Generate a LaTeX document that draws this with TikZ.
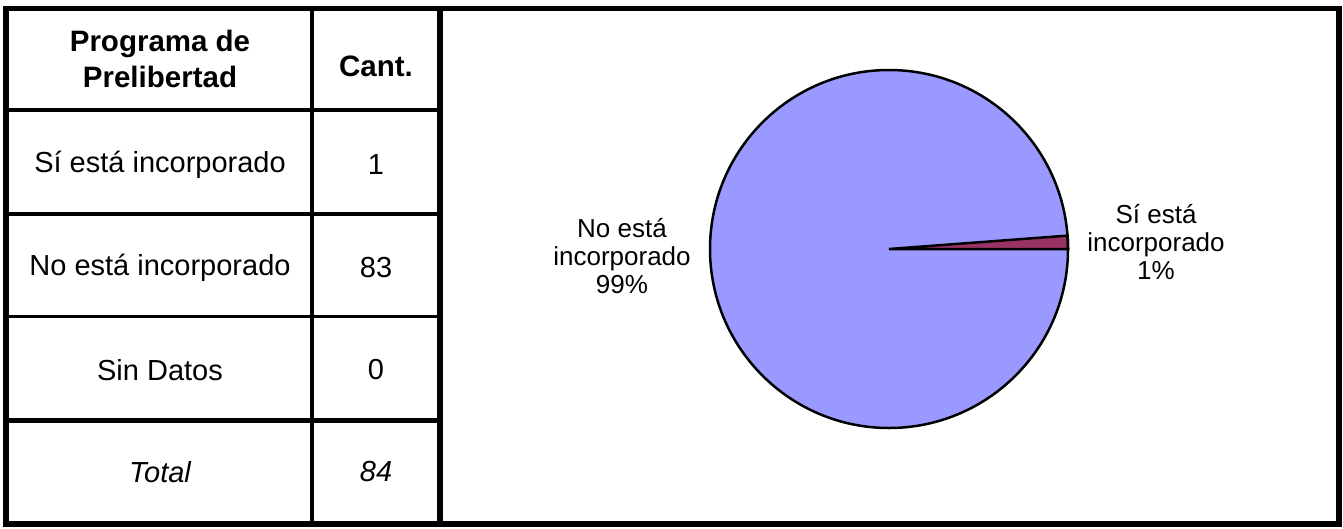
\documentclass[tikz,border=0pt]{standalone}
\usepackage{fontspec}
\setmainfont{Liberation Sans}
\definecolor{pieblue}{HTML}{9999FF}
\definecolor{piered}{HTML}{993366}
\tikzset{
  cell/.style={inner sep=0pt, align=center, font=\fontsize{29}{35}\selectfont},
  headcell/.style={cell, font=\fontsize{29.5}{36.5}\selectfont\bfseries},
  pielabel/.style={inner sep=0pt, align=center, font=\fontsize{26}{28}\selectfont},
  frame/.style={line width=5.5pt, line cap=rect},
}
\begin{document}
\begin{tikzpicture}[x=1pt,y=1pt]
\useasboundingbox (0,0) rectangle (1343,-528);
% outer frame and grid
\draw[frame] (6,-8.5) rectangle (1339,-524);
\draw[line width=6pt] (440,-8.5) -- (440,-524);
\draw[line width=4pt] (312,-8.5) -- (312,-524);
\draw[line width=4.5pt] (6,-110) -- (440,-110);
\draw[line width=3.3pt] (6,-214) -- (440,-214);
\draw[line width=3.3pt] (6,-316.5) -- (440,-316.5);
\draw[line width=5.5pt] (6,-420.5) -- (440,-420.5);
% table text
\node[headcell] (h1) at (160,-59) {Programa de\\Prelibertad};
\node[headcell] (h2) at (376,-66) {Cant.};
\node[cell] (r1a) at (160,-165) {Sí está incorporado};
\node[cell] (r1b) at (376,-165) {1};
\node[cell] (r2a) at (160,-268) {No está incorporado};
\node[cell] (r2b) at (376,-268) {83};
\node[cell] (r3a) at (160,-370) {Sin Datos};
\node[cell] (r3b) at (376,-370) {0};
\node[cell] (r4a) at (160,-472) {\itshape Total};
\node[cell] (r4b) at (376,-472) {\itshape 84};
% pie
\coordinate (pc) at (889,-249);
\fill[pieblue] (pc) circle (179);
\filldraw[fill=piered, draw=black, line width=2.5pt, line join=miter] (pc) -- ++(0:179) arc (0:4.29:179) -- cycle;
\draw[line width=2.5pt] (pc) circle (179);
\node[pielabel] (lno) at (622,-256) {No está\\incorporado\\99\%};
\node[pielabel] (lsi) at (1156,-242) {Sí está\\incorporado\\1\%};
\end{tikzpicture}
\end{document}
